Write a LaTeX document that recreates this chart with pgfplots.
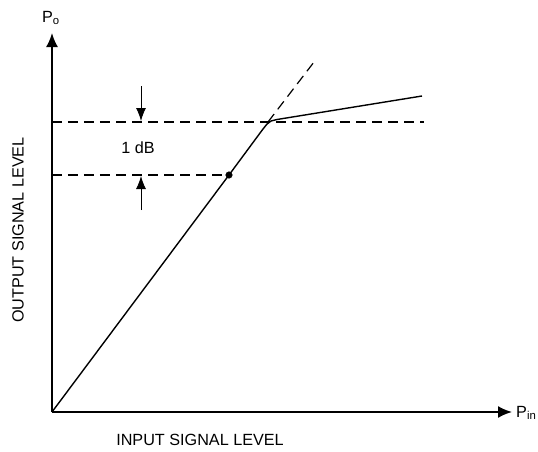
\documentclass[border=0pt]{standalone}
\usepackage{fontspec}
\setmainfont{Liberation Sans}
\usepackage{pgfplots}
\pgfplotsset{compat=1.18}
\usetikzlibrary{arrows.meta}

\begin{document}
\fontsize{16.2}{19}\selectfont
\begin{tikzpicture}
\begin{axis}[
  x=1pt, y=1pt,
  xmin=0, xmax=460, ymin=0, ymax=379,
  axis lines=left,
  axis line style={line width=1.8pt,-{Latex[length=14pt,width=12pt]}},
  xtick=\empty, ytick=\empty,
  clip=false,
]
% page frame
\coordinate (bl) at (axis cs:-52,-39);
\coordinate (tr) at (axis cs:486,412);

% gain compression curve
\addplot[black, line width=1.4pt] coordinates {
  (0,0) (177,237) (211,283) (215,288) (219,291) (225,292.5) (370,316)
};
% linear extrapolation
\addplot[black, line width=1.2pt, dash pattern=on 10pt off 6pt] coordinates {
  (216,290) (262,350)
};
% reference levels
\addplot[black, line width=1.2pt, dash pattern=on 10pt off 6pt] coordinates {
  (0,290) (372,290)
};
\addplot[black, line width=1.2pt, dash pattern=on 10pt off 6pt] coordinates {
  (0,237) (177,237)
};
% 1 dB compression point
\addplot[black, only marks, mark=*, mark size=3.3pt] coordinates {(177,237)};

% 1 dB arrows
\draw[line width=0.9pt,-{Latex[length=13pt,width=10pt]}] (axis cs:89,326) -- (axis cs:89,291);
\draw[line width=0.9pt,-{Latex[length=13pt,width=10pt]}] (axis cs:89,202) -- (axis cs:89,236);
\node at (axis cs:86,264) {1 dB};

% labels
\node at (axis cs:-1,394) {P\textsubscript{o}};
\node[anchor=west, inner sep=0pt] at (axis cs:464,-1) {P\textsubscript{in}};
\node at (axis cs:148,-28) {INPUT SIGNAL LEVEL};
\node[rotate=90] at (axis cs:-34,182) {OUTPUT SIGNAL LEVEL};
\end{axis}
\pgfresetboundingbox
\path (bl) rectangle (tr);
\end{tikzpicture}
\end{document}
